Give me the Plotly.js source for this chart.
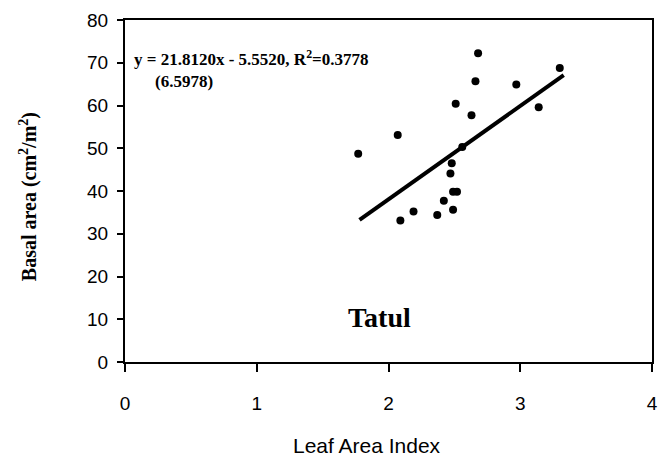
<!DOCTYPE html>
<html>
<head>
<meta charset="utf-8">
<script src="https://cdn.plot.ly/plotly-3.0.1.min.js"></script>
<style>html,body{margin:0;padding:0;background:#fff;}#chart{width:669px;height:461px;}</style>
</head>
<body>
<div id="chart"></div>
<script>
// Observed data: Leaf Area Index vs Basal area
const lai   = [1.77, 2.07, 2.68, 2.66, 2.51, 2.63, 2.97, 3.30, 3.14, 2.48, 2.47, 2.49, 2.52, 2.42, 2.19, 2.09, 2.37, 2.49, 2.56];
const basal = [48.7, 53.1, 72.2, 65.7, 60.4, 57.7, 64.9, 68.8, 59.6, 46.5, 44.1, 39.8, 39.8, 37.7, 35.2, 33.1, 34.4, 35.6, 50.3];

// Regression line
const slope = 21.8120;
const intercept = -5.5520;
const lineX = [1.78, 3.33];
const lineY = lineX.map(x => slope * x + intercept);

const xTicks = [0, 1, 2, 3, 4];
const yTicks = [0, 10, 20, 30, 40, 50, 60, 70, 80];

const traces = [
  {x: lai, y: basal, mode: 'markers', type: 'scatter',
   marker: {color: '#000', size: 8}, showlegend: false, hoverinfo: 'none'},
  {x: lineX, y: lineY, mode: 'lines', type: 'scatter',
   line: {color: '#000', width: 4}, showlegend: false, hoverinfo: 'none'}
];

const sans = 'Liberation Sans, Arial, sans-serif';
const serif = 'Liberation Serif, Times New Roman, serif';

const layout = {
  width: 669, height: 461,
  margin: {l: 125, r: 17, t: 20, b: 99},
  paper_bgcolor: '#fff', plot_bgcolor: '#fff',
  showlegend: false,
  xaxis: {
    range: [0, 4], tickvals: xTicks, ticktext: xTicks.map(String),
    showgrid: false, zeroline: false,
    showline: true, linecolor: '#000', linewidth: 2, mirror: true,
    ticks: 'outside', ticklen: 8, tickwidth: 2, tickcolor: '#000',
    ticklabelstandoff: 15,
    tickfont: {family: sans, size: 19, color: '#000'}
  },
  yaxis: {
    range: [0, 80], tickvals: yTicks, ticktext: yTicks.map(String),
    showgrid: false, zeroline: false,
    showline: true, linecolor: '#000', linewidth: 2, mirror: true,
    ticks: 'outside', ticklen: 6, tickwidth: 2, tickcolor: '#000',
    ticklabelstandoff: 5,
    tickfont: {family: sans, size: 19, color: '#000'}
  },
  annotations: [
    {xref: 'paper', yref: 'paper', x: 0.459, y: -0.243, xanchor: 'center', yanchor: 'middle',
     text: 'Leaf Area Index', showarrow: false,
     font: {family: sans, size: 21, color: '#000'}},
    {xref: 'paper', yref: 'paper', x: -0.184, y: 0.482, xanchor: 'center', yanchor: 'middle',
     textangle: -90,
     text: '<b>Basal area (cm<sup>2</sup>/m<sup>2</sup>)</b>', showarrow: false,
     font: {family: serif, size: 20, color: '#000'}},
    {xref: 'paper', yref: 'paper', x: 0.013, y: 0.889, xanchor: 'left', yanchor: 'middle',
     text: '<b>y = 21.8120x - 5.5520, R<sup>2</sup>=0.3778</b>', showarrow: false,
     font: {family: serif, size: 17, color: '#000'}},
    {xref: 'paper', yref: 'paper', x: 0.053, y: 0.82, xanchor: 'left', yanchor: 'middle',
     text: '<b>(6.5978)</b>', showarrow: false,
     font: {family: serif, size: 17, color: '#000'}},
    {xref: 'x', yref: 'y', x: 1.93, y: 10.3, xanchor: 'center', yanchor: 'middle',
     text: '<b>Tatul</b>', showarrow: false,
     font: {family: serif, size: 28, color: '#000'}}
  ]
};

Plotly.newPlot('chart', traces, layout, {staticPlot: true, displayModeBar: false});
</script>
</body>
</html>
